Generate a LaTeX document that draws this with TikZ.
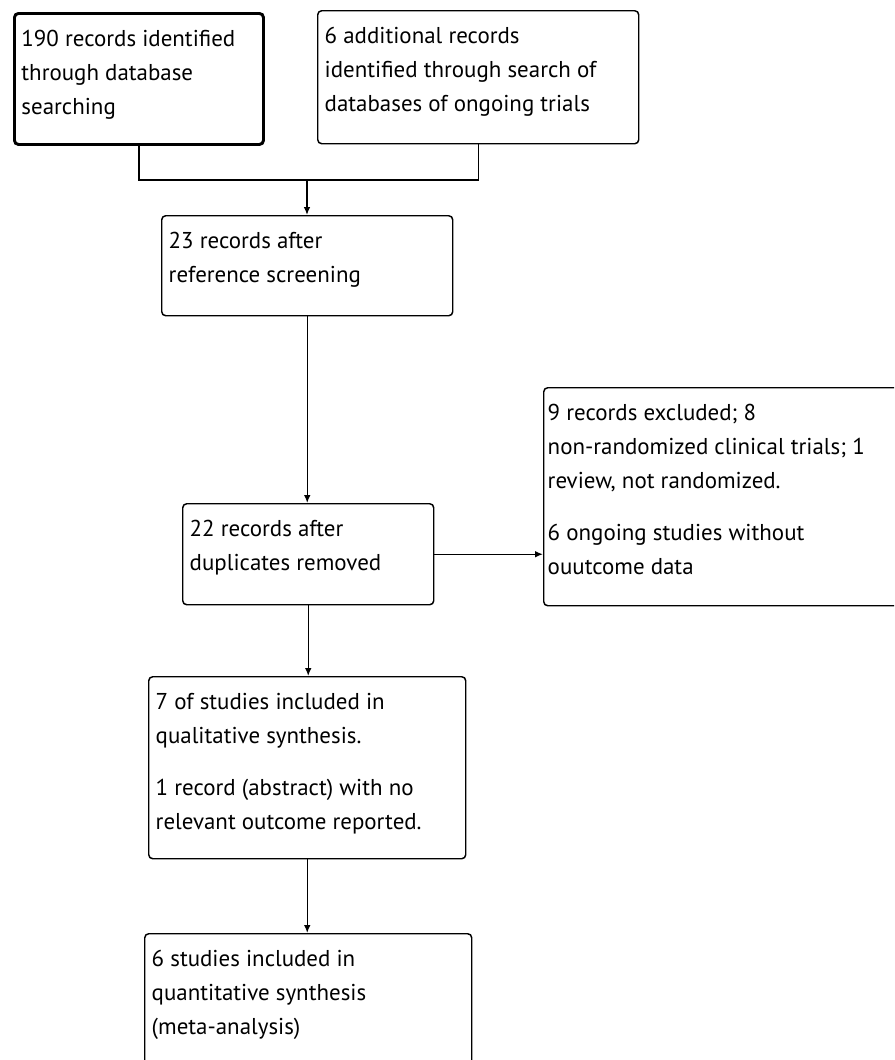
\documentclass[tikz,border=0pt]{standalone}
\usepackage{fontspec}
\setmainfont{PT Sans}
\usetikzlibrary{arrows.meta}

\newcommand{\flowfont}{\fontsize{17.2}{25.5}\selectfont}
% text of a box: width, height, lines
\newcommand{\boxlines}[3]{\parbox[t][#2][t]{#1}{\rule{0pt}{24.75pt}#3}}

\tikzset{
  flowbox/.style={draw, rounded corners=3pt, line width=1.1pt, anchor=north west,
    inner xsep=5.25pt, inner ysep=0pt, font=\flowfont},
  flowline/.style={line width=1.1pt},
  flowarrow/.style={line width=1.1pt, -{Latex[length=6pt,width=5pt]}}
}

\begin{document}
\begin{tikzpicture}[x=0.75pt,y=-0.75pt]
\useasboundingbox (0,0) rectangle (894,1060);
\clip (0,0) rectangle (894,1060);

\node[flowbox, line width=2.2pt] (ident) at (13,12)
  {\boxlines{176.25pt}{98.25pt}{190 records identified\\through database\\searching}};
\node[flowbox] (ongoing) at (317,10)
  {\boxlines{230.25pt}{99.75pt}{6 additional records\\identified through search of\\databases of ongoing trials}};
\node[flowbox] (screen) at (161,215)
  {\boxlines{207.75pt}{75pt}{23 records after\\reference screening}};
\node[flowbox] (dupl) at (182,503)
  {\boxlines{177.75pt}{75.75pt}{22 records after\\duplicates removed}};
\node[flowbox, inner xsep=3pt] (excl) at (543,387)
  {\boxlines{279pt}{163.5pt}{9 records excluded; 8\\non-randomized clinical trials; 1\\review, not randomized.\\[13pt]6 ongoing studies without\\ouutcome data}};
\node[flowbox] (qual) at (148,676)
  {\boxlines{227.25pt}{136.5pt}{7 of studies included in\\qualitative synthesis.\\[13pt]1 record (abstract) with no\\relevant outcome reported.}};
\node[flowbox] (quant) at (144,933)
  {\boxlines{234.75pt}{120pt}{6 studies included in\\quantitative synthesis\\(meta-analysis)}};

\coordinate (join) at (307,180);
\draw[flowline] (ident.south) |- (join) -| (ongoing.south);
\draw[flowarrow] (join) -- (join |- screen.north);
\draw[flowarrow] (screen.south) -- (screen.south |- dupl.north);
\draw[flowarrow] (dupl.east) -- (dupl.east -| excl.west);
\draw[flowarrow] (dupl.south) -- (dupl.south |- qual.north);
\draw[flowarrow] (qual.south) -- (qual.south |- quant.north);
\end{tikzpicture}
\end{document}
